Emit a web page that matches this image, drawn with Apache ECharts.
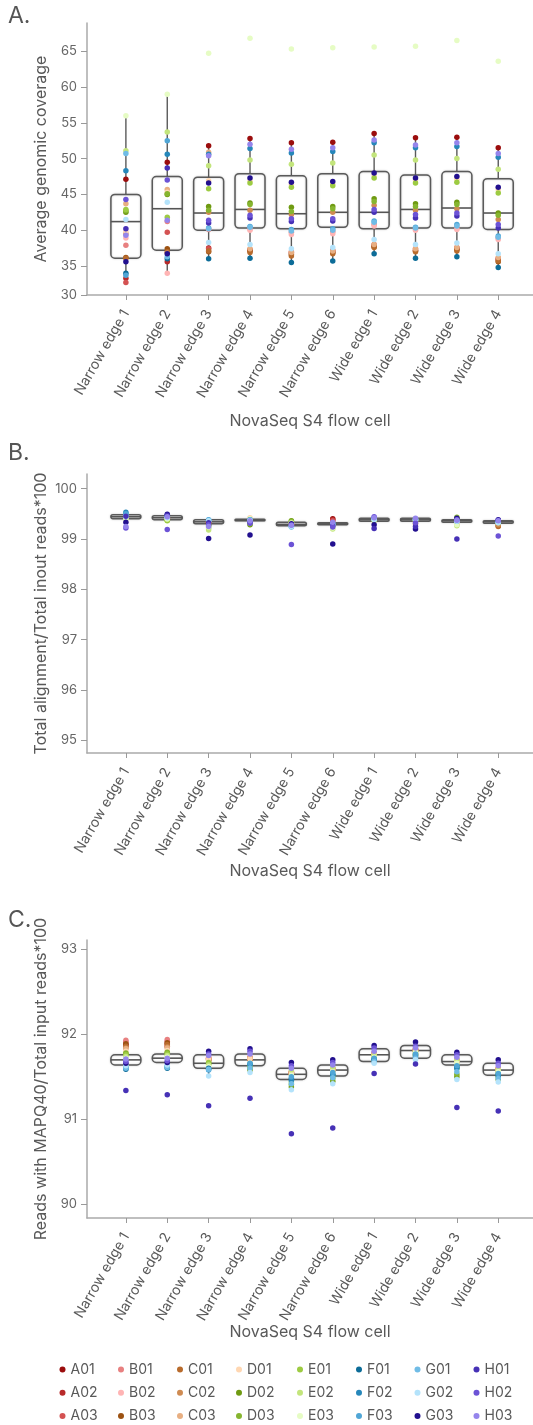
<!DOCTYPE html>
<html>
<head>
<meta charset="utf-8">
<title>NovaSeq S4 flow cell</title>
<script src="https://cdn.jsdelivr.net/npm/echarts@6.0.0/dist/echarts.min.js"></script>
<style>
  html, body { margin: 0; padding: 0; background: #fff; }
  #chart { width: 533px; height: 1425px; }
</style>
</head>
<body>
<div id="chart"></div>
<script>
// categories (x axis)
var categories = ['Narrow edge 1', 'Narrow edge 2', 'Narrow edge 3', 'Narrow edge 4', 'Narrow edge 5',
                  'Narrow edge 6', 'Wide edge 1', 'Wide edge 2', 'Wide edge 3', 'Wide edge 4'];

// samples, in data column order
var samples = ['A01', 'A02', 'A03', 'B01', 'B02', 'B03', 'C01', 'C02', 'C03', 'D01', 'D02', 'D03',
               'E01', 'E02', 'E03', 'F01', 'F02', 'F03', 'G01', 'G02', 'G03', 'H01', 'H02', 'H03'];
var sampleColors = ['#9b0d0d', '#b82a2a', '#d45252', '#e88080', '#ffb4b4', '#9c5212',
                    '#b86b2c', '#cf8b52', '#e8af82', '#ffd7b2', '#6f9a12', '#86b52f',
                    '#9dcb42', '#c3e57c', '#e6fcc4', '#0c6c98', '#2687ba', '#50a6d6',
                    '#70bce6', '#b4e3fb', '#22108f', '#4631b6', '#6c53d6', '#9585ec'];

// tick labels
var yLabelsA = [30, 35, 40, 45, 50, 55, 60, 65];
var yLabelsB = [95, 96, 97, 98, 99, 100];
var yLabelsC = [90, 91, 92, 93];

// A. average genomic coverage, one row per category, columns = samples
var coverageA = [
    [47.1, 33.3, 32.7, 37.9, 38.9, 36.2, 36.1, 39.5, 43.7, 39.8, 42.5, 42.7, 42.9, 51.1, 56.0, 34.0, 48.3, 33.7, 50.7, 41.5, 35.6, 40.2, 44.3, 39.3],
    [49.5, 35.6, 39.7, 41.2, 34.0, 37.4, 37.0, 36.8, 45.7, 45.3, 45.0, 45.1, 41.8, 53.7, 59.0, 36.0, 50.6, 52.5, 36.3, 43.9, 36.7, 48.7, 47.0, 41.4],
    [51.8, 37.5, 37.4, 40.1, 40.2, 37.0, 37.1, 42.5, 50.9, 46.9, 43.3, 42.8, 45.8, 49.0, 64.7, 36.0, 50.6, 40.3, 40.2, 38.3, 46.6, 41.0, 41.4, 50.4],
    [52.8, 37.2, 37.3, 40.2, 40.0, 37.1, 36.9, 42.8, 37.4, 46.9, 43.8, 43.6, 46.6, 49.8, 66.8, 36.1, 51.4, 40.5, 40.4, 38.0, 47.3, 41.7, 42.1, 52.0],
    [52.2, 36.8, 37.0, 39.7, 39.4, 36.6, 36.4, 42.2, 36.9, 46.4, 43.2, 42.6, 46.0, 49.2, 65.3, 35.5, 50.8, 40.1, 39.9, 37.4, 46.7, 41.2, 41.6, 51.3],
    [52.3, 37.0, 37.2, 39.8, 39.5, 36.9, 36.7, 42.5, 37.1, 46.5, 43.3, 43.0, 46.2, 49.4, 65.5, 35.7, 51.0, 40.2, 40.0, 37.6, 46.8, 41.3, 41.6, 51.5],
    [53.5, 37.8, 38.0, 40.8, 40.6, 37.7, 37.6, 43.5, 38.0, 47.7, 44.4, 44.0, 47.3, 50.5, 65.6, 36.7, 52.2, 41.3, 41.1, 38.7, 48.0, 42.5, 42.9, 52.6],
    [52.9, 37.2, 37.4, 40.2, 40.0, 37.1, 37.0, 42.8, 37.4, 47.0, 43.7, 43.3, 46.6, 49.8, 65.7, 36.1, 51.5, 40.4, 40.3, 38.0, 47.3, 41.7, 42.2, 51.9],
    [53.0, 37.4, 37.6, 40.3, 40.1, 37.3, 37.1, 43.0, 37.6, 47.1, 43.9, 43.6, 46.7, 50.0, 66.5, 36.3, 51.7, 40.8, 40.6, 38.2, 47.5, 42.0, 42.4, 52.2],
    [51.5, 35.9, 36.1, 38.9, 38.7, 35.6, 35.7, 41.5, 36.2, 45.7, 42.4, 42.1, 45.2, 48.5, 63.6, 34.8, 50.2, 39.2, 39.0, 36.7, 46.0, 40.3, 40.8, 50.7]
];
// box: [whisker low, Q1, median, Q3, whisker high]
var boxA = [
    [32.7, 36.1, 41.2, 45.0, 56.0],
    [34.0, 37.2, 43.0, 47.5, 59.0],
    [36.0, 40.0, 42.4, 47.4, 51.8],
    [36.1, 40.3, 42.9, 47.9, 52.8],
    [35.5, 40.2, 42.3, 47.6, 52.2],
    [35.7, 40.4, 42.5, 47.9, 52.3],
    [36.7, 40.2, 42.5, 48.2, 53.5],
    [36.1, 40.3, 42.9, 47.7, 52.9],
    [36.3, 40.3, 43.1, 48.2, 53.0],
    [34.8, 40.1, 42.4, 47.2, 51.5]
];

// B. total alignment / total input reads * 100
var alignB = [
    [99.44, 99.43, 99.42, 99.45, 99.44, 99.41, 99.42, 99.43, 99.44, 99.46, 99.42, 99.43, 99.41, 99.40, 99.38, 99.47, 99.53, 99.50, 99.45, 99.44, 99.33, 99.45, 99.22, 99.25],
    [99.43, 99.42, 99.41, 99.42, 99.43, 99.40, 99.41, 99.42, 99.43, 99.44, 99.38, 99.37, 99.36, 99.39, 99.40, 99.45, 99.46, 99.44, 99.43, 99.42, 99.49, 99.47, 99.19, 99.44],
    [99.34, 99.33, 99.32, 99.33, 99.34, 99.31, 99.32, 99.33, 99.35, 99.36, 99.28, 99.26, 99.22, 99.18, 99.24, 99.36, 99.37, 99.38, 99.37, 99.36, 99.01, 99.32, 99.28, 99.25],
    [99.37, 99.37, 99.36, 99.38, 99.38, 99.36, 99.37, 99.38, 99.39, 99.42, 99.28, 99.30, 99.32, 99.35, 99.40, 99.37, 99.38, 99.37, 99.36, 99.37, 99.08, 99.33, 99.31, 99.36],
    [99.29, 99.28, 99.29, 99.30, 99.29, 99.27, 99.28, 99.29, 99.30, 99.31, 99.36, 99.35, 99.33, 99.32, 99.31, 99.27, 99.26, 99.25, 99.24, 99.25, 99.30, 99.28, 98.89, 99.27],
    [99.40, 99.38, 99.36, 99.31, 99.30, 99.29, 99.30, 99.31, 99.30, 99.29, 99.30, 99.31, 99.27, 99.20, 99.22, 99.31, 99.30, 99.29, 99.28, 99.27, 98.90, 99.26, 99.24, 99.33],
    [99.39, 99.38, 99.38, 99.39, 99.39, 99.37, 99.38, 99.38, 99.39, 99.40, 99.37, 99.38, 99.37, 99.38, 99.39, 99.40, 99.41, 99.40, 99.39, 99.38, 99.28, 99.21, 99.44, 99.42],
    [99.38, 99.37, 99.38, 99.37, 99.38, 99.36, 99.30, 99.37, 99.36, 99.38, 99.37, 99.38, 99.37, 99.36, 99.38, 99.39, 99.38, 99.37, 99.39, 99.38, 99.20, 99.25, 99.32, 99.41],
    [99.36, 99.35, 99.36, 99.37, 99.36, 99.35, 99.34, 99.30, 99.29, 99.31, 99.40, 99.43, 99.38, 99.26, 99.28, 99.37, 99.36, 99.35, 99.36, 99.35, 99.41, 99.00, 99.38, 99.37],
    [99.34, 99.33, 99.34, 99.33, 99.34, 99.26, 99.25, 99.28, 99.33, 99.34, 99.33, 99.34, 99.33, 99.32, 99.33, 99.34, 99.35, 99.34, 99.33, 99.32, 99.38, 99.37, 99.06, 99.36]
];
var boxB = [
    [99.33, 99.40, 99.44, 99.48, 99.53],
    [99.36, 99.38, 99.42, 99.46, 99.49],
    [99.22, 99.30, 99.34, 99.38, 99.38],
    [99.32, 99.36, 99.37, 99.39, 99.42],
    [99.24, 99.26, 99.29, 99.33, 99.36],
    [99.24, 99.28, 99.30, 99.32, 99.36],
    [99.35, 99.35, 99.38, 99.41, 99.44],
    [99.30, 99.35, 99.38, 99.41, 99.41],
    [99.28, 99.33, 99.36, 99.38, 99.43],
    [99.25, 99.31, 99.34, 99.36, 99.38]
];

// C. reads with MAPQ40 / total input reads * 100
var mapqC = [
    [91.88, 91.87, 91.91, 91.93, 91.85, 91.89, 91.86, 91.84, 91.83, 91.80, 91.77, 91.78, 91.76, 91.74, 91.72, 91.59, 91.61, 91.62, 91.60, 91.63, 91.66, 91.34, 91.68, 91.71],
    [91.89, 91.86, 91.92, 91.94, 91.87, 91.90, 91.88, 91.85, 91.84, 91.81, 91.78, 91.79, 91.77, 91.75, 91.73, 91.60, 91.62, 91.63, 91.61, 91.64, 91.67, 91.29, 91.69, 91.72],
    [91.71, 91.70, 91.72, 91.73, 91.72, 91.69, 91.70, 91.71, 91.72, 91.70, 91.65, 91.66, 91.67, 91.64, 91.62, 91.60, 91.59, 91.58, 91.59, 91.51, 91.80, 91.16, 91.77, 91.75],
    [91.72, 91.71, 91.72, 91.73, 91.72, 91.70, 91.71, 91.72, 91.73, 91.71, 91.58, 91.60, 91.62, 91.64, 91.66, 91.65, 91.64, 91.66, 91.60, 91.55, 91.83, 91.25, 91.80, 91.77],
    [91.55, 91.54, 91.55, 91.56, 91.55, 91.53, 91.54, 91.55, 91.56, 91.54, 91.38, 91.41, 91.44, 91.58, 91.52, 91.48, 91.46, 91.50, 91.42, 91.35, 91.67, 90.83, 91.63, 91.60],
    [91.59, 91.58, 91.59, 91.60, 91.59, 91.57, 91.58, 91.59, 91.60, 91.58, 91.45, 91.48, 91.51, 91.61, 91.56, 91.53, 91.52, 91.55, 91.49, 91.42, 91.70, 90.90, 91.67, 91.64],
    [91.77, 91.76, 91.77, 91.78, 91.77, 91.75, 91.76, 91.77, 91.78, 91.76, 91.70, 91.72, 91.74, 91.75, 91.73, 91.71, 91.70, 91.72, 91.68, 91.66, 91.87, 91.54, 91.84, 91.80],
    [91.82, 91.81, 91.82, 91.83, 91.82, 91.80, 91.81, 91.82, 91.83, 91.81, 91.75, 91.77, 91.78, 91.80, 91.79, 91.76, 91.74, 91.77, 91.72, 91.70, 91.91, 91.65, 91.86, 91.84],
    [91.69, 91.68, 91.69, 91.70, 91.69, 91.67, 91.68, 91.69, 91.70, 91.68, 91.50, 91.53, 91.60, 91.70, 91.66, 91.62, 91.60, 91.63, 91.56, 91.47, 91.79, 91.14, 91.76, 91.73],
    [91.59, 91.58, 91.59, 91.60, 91.59, 91.57, 91.58, 91.59, 91.60, 91.58, 91.47, 91.50, 91.55, 91.58, 91.56, 91.53, 91.51, 91.54, 91.48, 91.44, 91.70, 91.10, 91.66, 91.63]
];
var boxC = [
    [91.59, 91.64, 91.70, 91.76, 91.93],
    [91.60, 91.67, 91.72, 91.77, 91.94],
    [91.51, 91.60, 91.66, 91.76, 91.80],
    [91.55, 91.63, 91.70, 91.77, 91.83],
    [91.35, 91.47, 91.53, 91.60, 91.67],
    [91.42, 91.51, 91.58, 91.64, 91.70],
    [91.66, 91.68, 91.76, 91.83, 91.87],
    [91.70, 91.72, 91.81, 91.87, 91.91],
    [91.47, 91.64, 91.68, 91.76, 91.79],
    [91.44, 91.52, 91.58, 91.66, 91.70]
];

var FONT = 'Inter';
var TEXT = '#595959';

// panel layout
var panels = [
    { title: 'A.', titleTop: 5, top: 23, height: 272, min: 30.95, max: 68.94, labels: yLabelsA,
      yName: 'Average genomic coverage', xNameGap: 118, values: coverageA, boxes: boxA },
    { title: 'B.', titleTop: 442, top: 474, height: 279, min: 94.75, max: 100.29, labels: yLabelsB,
      yName: 'Total alignment/Total inout reads*100', xNameGap: 110, values: alignB, boxes: boxB },
    { title: 'C.', titleTop: 909, top: 940, height: 278, min: 89.84, max: 93.11, labels: yLabelsC,
      yName: 'Reads with MAPQ40/Total input reads*100', xNameGap: 106, values: mapqC, boxes: boxC }
];

// box + whiskers, drawn through the axes
function renderBox(params, api) {
    var x = api.value(0);
    var lo = api.coord([x, api.value(1)]);
    var q1 = api.coord([x, api.value(2)]);
    var md = api.coord([x, api.value(3)]);
    var q3 = api.coord([x, api.value(4)]);
    var hi = api.coord([x, api.value(5)]);
    var cx = lo[0], w = 30;
    var lineStyle = { stroke: '#5a5a5a', lineWidth: 1.4 };
    return {
        type: 'group',
        children: [
            { type: 'line', shape: { x1: cx, y1: hi[1], x2: cx, y2: q3[1] }, style: lineStyle },
            { type: 'line', shape: { x1: cx, y1: q1[1], x2: cx, y2: lo[1] }, style: lineStyle },
            { type: 'rect', shape: { x: cx - w / 2, y: q3[1], width: w, height: q1[1] - q3[1], r: 4 },
              style: { fill: 'rgba(255,255,255,0)', stroke: '#5a5a5a', lineWidth: 1.5,
                       shadowBlur: 2, shadowColor: 'rgba(0,0,0,0.25)' } },
            { type: 'line', shape: { x1: cx - w / 2, y1: md[1], x2: cx + w / 2, y2: md[1] },
              style: { stroke: '#555', lineWidth: 1.6 } }
        ]
    };
}

var catTicks = categories.map(function (c, i) { return i + 1; });

var titles = [], grids = [], xAxes = [], yAxes = [], series = [];
panels.forEach(function (p, k) {
    titles.push({ text: p.title, left: 8, top: p.titleTop, padding: 0,
                  textStyle: { fontFamily: FONT, fontSize: 23, fontWeight: 'normal', color: '#555' } });
    grids.push({ left: 87, right: 0, top: p.top, height: p.height, outerBoundsMode: 'none' });

    var tickPos = p.labels.map(function (v) { return Math.max(v, p.min); });
    xAxes.push({
        type: 'value', gridIndex: k, min: 0.06, max: 10.84,
        name: 'NovaSeq S4 flow cell', nameLocation: 'middle', nameGap: p.xNameGap, nameMoveOverlap: false,
        nameTextStyle: { fontFamily: FONT, fontSize: 16, color: TEXT },
        axisLine: { show: true, lineStyle: { color: '#aaa', width: 1.5 } },
        axisTick: { show: true, customValues: catTicks, length: 5, lineStyle: { color: '#999' } },
        axisLabel: { customValues: catTicks, rotate: 60, margin: 16, fontFamily: FONT, fontSize: 14, color: TEXT,
                     formatter: function (v) { return categories[v - 1]; } },
        splitLine: { show: false }
    });
    yAxes.push({
        type: 'value', gridIndex: k, min: p.min, max: p.max,
        name: p.yName, nameLocation: 'middle', nameGap: 38, nameMoveOverlap: false,
        nameTextStyle: { fontFamily: FONT, fontSize: 16, color: TEXT },
        axisLine: { show: true, lineStyle: { color: '#aaa', width: 1.5 } },
        axisTick: { show: true, customValues: tickPos, length: 6, lineStyle: { color: '#999' } },
        axisLabel: { customValues: tickPos, margin: 10, fontFamily: FONT, fontSize: 13, color: '#666',
                     formatter: function (v) { return String(p.labels[tickPos.indexOf(v)]); } },
        splitLine: { show: false }
    });

    series.push({
        type: 'custom', xAxisIndex: k, yAxisIndex: k, renderItem: renderBox, z: 1, silent: true,
        encode: { x: 0, y: [1, 2, 3, 4, 5] },
        data: p.boxes.map(function (b, i) { return [i + 1].concat(b); })
    });
    samples.forEach(function (s, j) {
        series.push({
            type: 'scatter', name: s, xAxisIndex: k, yAxisIndex: k, z: 3,
            symbol: 'circle', symbolSize: 5.5,
            itemStyle: { color: sampleColors[j], opacity: 1 },
            data: p.values.map(function (row, i) { return [i + 1, row[j]]; })
        });
    });
});

// legend: one column per sample letter
var letters = ['A', 'B', 'C', 'D', 'E', 'F', 'G', 'H'];
var legendLeft = [59.5, 118, 177, 236, 297, 356, 414.5, 473.5];
var legends = letters.map(function (L, k) {
    return {
        orient: 'vertical', left: legendLeft[k], top: 1362.5, padding: 0, itemGap: 9.3,
        itemWidth: 6, itemHeight: 6, icon: 'circle',
        textStyle: { fontFamily: FONT, fontSize: 14, color: TEXT, lineHeight: 14 },
        data: [L + '01', L + '02', L + '03']
    };
});

var chart = echarts.init(document.getElementById('chart'), null, { renderer: 'canvas' });
chart.setOption({
    animation: false,
    backgroundColor: '#fff',
    title: titles,
    grid: grids,
    xAxis: xAxes,
    yAxis: yAxes,
    legend: legends,
    tooltip: { show: false },
    series: series
});
</script>
</body>
</html>
